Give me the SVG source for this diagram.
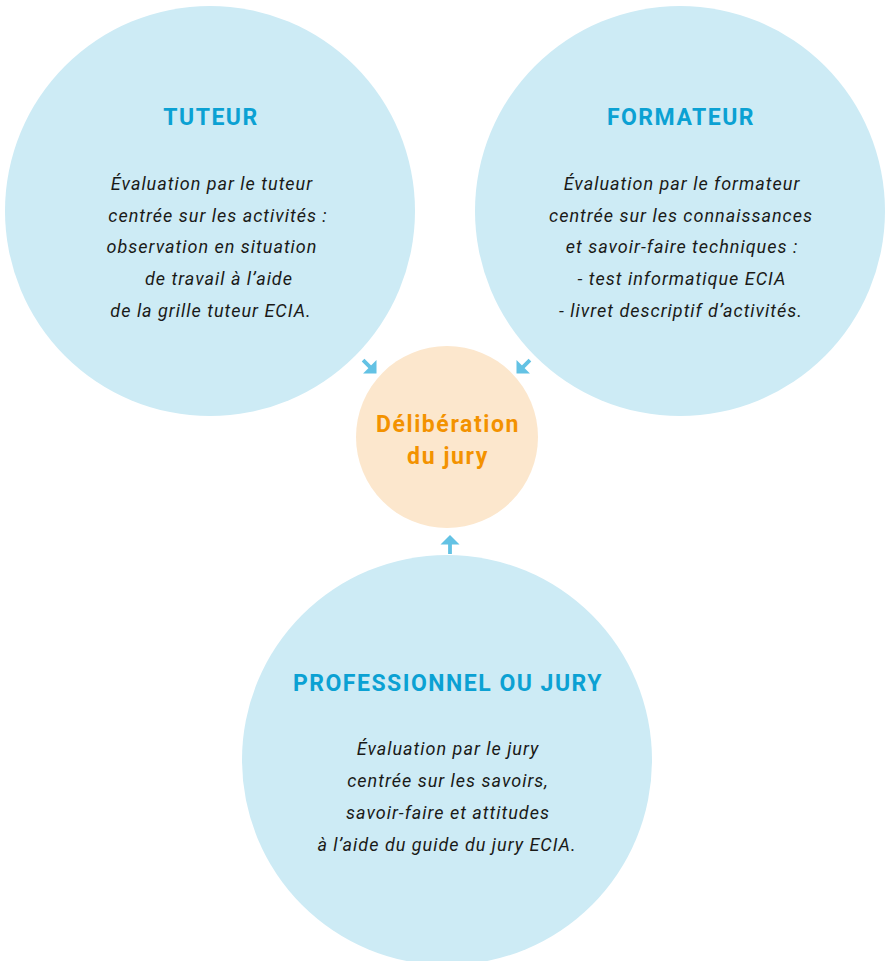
<svg xmlns="http://www.w3.org/2000/svg" xmlns:xlink="http://www.w3.org/1999/xlink" width="886" height="961" viewBox="0 0 886 961">
  <style>
    .bubble { fill: #cdebf5; }
    .core { fill: #fce7cd; }
    .title { font-family: Roboto, "Liberation Sans", sans-serif; font-weight: 700; font-size: 23px; letter-spacing: 1.5px; fill: #0ba1d3; text-anchor: middle; }
    .body { font-family: Roboto, "Liberation Sans", sans-serif; font-style: italic; font-size: 18px; letter-spacing: 1px; fill: #1a1a18; text-anchor: middle; }
    .core-label { font-family: Roboto, "Liberation Sans", sans-serif; font-weight: 700; font-size: 23px; letter-spacing: 1.6px; fill: #f39200; text-anchor: middle; }
    .arrow { fill: #63c2e4; }
  </style>
  <defs>
    <!-- upward arrow, tip at the origin -->
    <g id="arrow-up" class="arrow">
      <polygon points="0,0 9.5,9.5 -9.5,9.5"/>
      <rect x="-1.9" y="8" width="3.8" height="11"/>
    </g>
  </defs>

  <g id="tuteur">
    <circle class="bubble" cx="210" cy="211" r="205"/>
    <text class="title" x="211" y="125">TUTEUR</text>
    <text class="body" x="212" y="190">Évaluation par le tuteur</text>
    <text class="body" x="218" y="222">centrée sur les activités :</text>
    <text class="body" x="212" y="253">observation en situation</text>
    <text class="body" x="219" y="285">de travail à l’aide</text>
    <text class="body" x="211" y="317">de la grille tuteur ECIA.</text>
  </g>

  <g id="formateur">
    <circle class="bubble" cx="680" cy="211" r="205"/>
    <text class="title" x="681" y="125">FORMATEUR</text>
    <text class="body" x="682" y="190">Évaluation par le formateur</text>
    <text class="body" x="681" y="222">centrée sur les connaissances</text>
    <text class="body" x="682" y="253">et savoir-faire techniques :</text>
    <text class="body" x="682" y="285">- test informatique ECIA</text>
    <text class="body" x="681" y="317">- livret descriptif d’activités.</text>
  </g>

  <g id="jury">
    <circle class="bubble" cx="447" cy="760" r="205"/>
    <text class="title" x="448" y="691">PROFESSIONNEL OU JURY</text>
    <text class="body" x="448" y="755">Évaluation par le jury</text>
    <text class="body" x="448" y="787">centrée sur les savoirs,</text>
    <text class="body" x="448" y="819">savoir-faire et attitudes</text>
    <text class="body" x="447" y="851">à l’aide du guide du jury ECIA.</text>
  </g>

  <g id="deliberation">
    <circle class="core" cx="447" cy="437" r="91"/>
    <text class="core-label" x="448" y="432">Délibération</text>
    <text class="core-label" x="448" y="464">du jury</text>
  </g>

  <g id="connectors">
    <use xlink:href="#arrow-up" transform="translate(376.5,373.5) rotate(135)"/>
    <use xlink:href="#arrow-up" transform="translate(516.5,373.5) rotate(-135)"/>
    <use xlink:href="#arrow-up" transform="translate(450,535)"/>
  </g>
</svg>
